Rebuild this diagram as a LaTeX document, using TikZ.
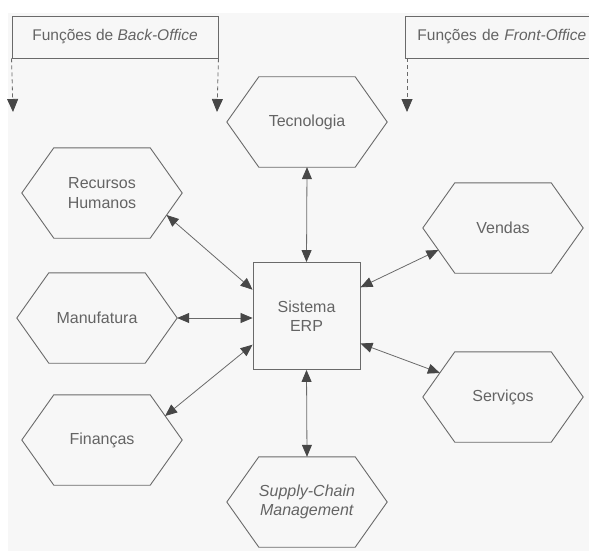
\documentclass[tikz,border=0pt]{standalone}
\usepackage{fontspec}
\setmainfont{Liberation Sans}
\usetikzlibrary{arrows.meta}
\definecolor{fundo}{HTML}{F7F7F7}
\definecolor{linha}{HTML}{6A6A6A}
\definecolor{texto}{HTML}{646464}
\definecolor{ponta}{HTML}{474747}
\tikzset{
  hexa/.style={minimum width=160pt, minimum height=90pt, inner sep=0pt,
    align=center, text=texto, font=\fontsize{16}{19.5}\selectfont,
    append after command={\pgfextra{\draw[draw=linha, line width=0.9pt]
      ([xshift=32pt]\tikzlastnode.north west) -- ([xshift=-32pt]\tikzlastnode.north east)
      -- (\tikzlastnode.east) -- ([xshift=-32pt]\tikzlastnode.south east)
      -- ([xshift=32pt]\tikzlastnode.south west) -- (\tikzlastnode.west) -- cycle;}}},
  erpbox/.style={draw=linha, line width=0.9pt, minimum size=107pt,
    inner sep=0pt, align=center, text=texto, font=\fontsize{16}{19.5}\selectfont},
  officebox/.style={draw=linha, line width=0.9pt, minimum height=42pt,
    inner sep=0pt, text=texto},
  seta/.style={draw=linha, line width=0.8pt, <->,
    >={Triangle[length=12pt,width=10pt,color=ponta]}},
  tracejada/.style={draw=linha, line width=0.8pt, dash pattern=on 4pt off 3pt, ->,
    >={Triangle[length=13pt,width=11pt,color=ponta]}}
}
\begin{document}
\begin{tikzpicture}[x=1pt,y=-1pt,font=\fontsize{15.5}{19.5}\selectfont]
\useasboundingbox (0,0) rectangle (589,551);
\clip (0,0) rectangle (589,551);
\fill[fundo] (8,13) rectangle (589,551);
% caixas do topo
\node[officebox, minimum width=206pt](back) at (115,37){Funções de \textit{Back-Office}};
\node[officebox, anchor=west, text width=170pt, inner xsep=12pt, align=left](front) at (405,37){Funções de \textit{Front-Office}};
\coordinate (b1) at (13,112);
\coordinate (b2) at (217,112);
\coordinate (f1) at (407,112);
\draw[tracejada] (back.south west) -- (b1);
\draw[tracejada] (back.south east) -- (b2);
\draw[tracejada] ([xshift=2pt]front.south west) -- (f1);
% nucleo e modulos
\node[erpbox](erp) at (306.5,316){Sistema\\ERP};
\node[hexa](tec) at (307,122){Tecnologia};
\node[hexa](rh) at (102,193){Recursos\\Humanos};
\node[hexa](man) at (97,318){Manufatura};
\node[hexa](fin) at (102,440){Finanças};
\node[hexa](scm) at (307,502){\textit{Supply-Chain}\\\textit{Management}};
\node[hexa](ven) at (503,228){Vendas};
\node[hexa](ser) at (503,397){Serviços};
\draw[seta] (tec.south) -- (erp.north);
\draw[seta] (scm.north) -- (erp.south);
\draw[seta] ([xshift=-15.6pt,yshift=-22pt]rh.east) -- (erp.154);
\draw[seta] (man.east) -- (man.east -| erp.west);
\draw[seta] ([xshift=-17.1pt,yshift=24pt]fin.east) -- (erp.-152);
\draw[seta] ([xshift=15.6pt,yshift=-22pt]ven.west) -- (erp.28.5);
\draw[seta] ([xshift=17.1pt,yshift=24pt]ser.west) -- (erp.-27.6);
\end{tikzpicture}
\end{document}
